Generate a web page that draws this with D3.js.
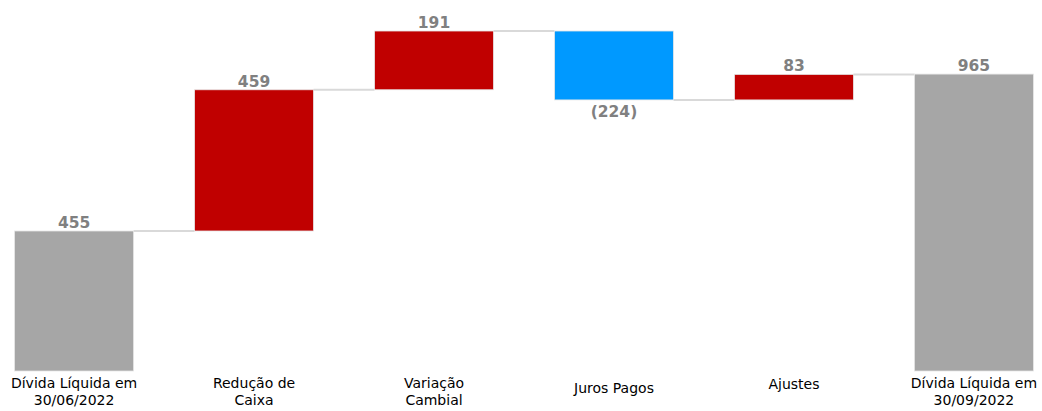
<!DOCTYPE html>
<html>
<head>
<meta charset="utf-8">
<script src="https://cdn.jsdelivr.net/npm/d3@7"></script>
<style>
  body { margin: 0; background: #fff; }
  text { font-family: "DejaVu Sans", sans-serif; }
</style>
</head>
<body>
<div id="chart"></div>
<script>
var categories = [["Dívida Líquida em", "30/06/2022"], ["Redução de", "Caixa"], ["Variação", "Cambial"], ["Juros Pagos"], ["Ajustes"], ["Dívida Líquida em", "30/09/2022"]];
var values = [455, 459, 191, -224, 83, 965];
var valueLabels = ["455", "459", "191", "(224)", "83", "965"];
var kinds = ["total", "up", "up", "down", "up", "total"];

var svgWidth = 1042;
var svgHeight = 411;
var colors = { total: "#a6a6a6", up: "#c00000", down: "#0099ff" };

var svg = d3.select("#chart").append("svg")
    .attr("width", svgWidth)
    .attr("height", svgHeight);

// running start / end for each step
var running = 0;
var steps = values.map(function (v, i) {
    var s, e;
    if (kinds[i] === "total") { s = 0; e = v; running = v; }
    else { s = running; e = running + v; running = e; }
    return { i: i, start: s, end: e, v: v };
});

var x = d3.scaleBand()
    .domain(d3.range(values.length))
    .range([-16, 1064])
    .paddingInner(0.339)
    .paddingOuter(0.17);

var y = d3.scaleLinear().domain([0, 1105]).range([371, 31]);

// connectors
svg.selectAll("line.conn")
    .data(steps.slice(0, -1))
    .enter().append("line")
    .attr("x1", function (d) { return x(d.i) + x.bandwidth(); })
    .attr("x2", function (d) { return x(d.i + 1); })
    .attr("y1", function (d) { return y(d.end); })
    .attr("y2", function (d) { return y(d.end); })
    .attr("stroke", "#d9d9d9")
    .attr("stroke-width", 2);

svg.selectAll("rect.bar")
    .data(steps)
    .enter().append("rect")
    .attr("x", function (d) { return x(d.i); })
    .attr("width", x.bandwidth())
    .attr("y", function (d) { return y(Math.max(d.start, d.end)); })
    .attr("height", function (d) { return Math.abs(y(d.start) - y(d.end)); })
    .attr("fill", function (d) { return colors[kinds[d.i]]; })
    .attr("stroke", "#e6e6e6")
    .attr("stroke-width", 0.8);

svg.selectAll("text.val")
    .data(steps)
    .enter().append("text")
    .attr("x", function (d) { return x(d.i) + x.bandwidth() / 2; })
    .attr("y", function (d) {
        return d.v < 0 ? y(d.end) + 17 : y(Math.max(d.start, d.end)) - 3;
    })
    .attr("text-anchor", "middle")
    .attr("font-size", "15.5px")
    .attr("font-weight", "bold")
    .attr("fill", "#808080")
    .text(function (d, i) { return valueLabels[i]; });

var cat = svg.selectAll("text.cat")
    .data(categories)
    .enter().append("text")
    .attr("text-anchor", "middle")
    .attr("font-size", "14px")
    .attr("fill", "#000")
    .attr("x", function (d, i) { return x(i) + x.bandwidth() / 2; })
    .attr("y", function (d, i) { return d.length > 1 ? 388 : (i === 3 ? 393 : 389); });

cat.selectAll("tspan")
    .data(function (d) { return d; })
    .enter().append("tspan")
    .attr("x", function () { return d3.select(this.parentNode).attr("x"); })
    .attr("dy", function (d, j) { return j === 0 ? 0 : 17; })
    .text(function (d) { return d; });
</script>
</body>
</html>
